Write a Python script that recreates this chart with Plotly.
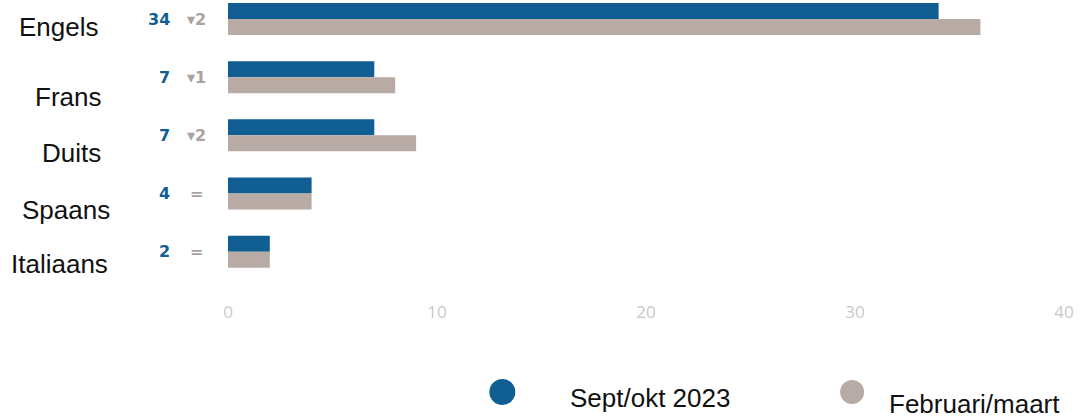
import plotly.graph_objects as go

# Languages and survey results (number of mentions)
languages = ["Engels", "Frans", "Duits", "Spaans", "Italiaans"]
sept_okt_2023 = [34, 7, 7, 4, 2]
februari_maart = [36, 8, 9, 4, 2]
x_ticks = [0, 10, 20, 30, 40]
series_names = ["Sept/okt 2023", "Februari/maart"]

BLUE = "#105e92"
BEIGE = "#b8aaa4"
DELTA_GREY = "#aaa1a0"
TICK_GREY = "#c9c9c9"

W, H = 1086, 419
L, R, T, B = 227.5, 22, 0, 129
plot_w = W - L - R
plot_h = H - T - B


def px_x(px):
    return (px - L) / plot_w


def px_y(py):
    return (T + plot_h - py) / plot_h


fig = go.Figure()
fig.add_trace(go.Bar(y=list(range(len(languages))), x=sept_okt_2023, orientation="h",
                     name=series_names[0], marker=dict(color=BLUE, line=dict(width=0)),
                     hoverinfo="x"))
fig.add_trace(go.Bar(y=list(range(len(languages))), x=februari_maart, orientation="h",
                     name=series_names[1], marker=dict(color=BEIGE, line=dict(width=0)),
                     hoverinfo="x"))

annotations = []

# category names, each nudged slightly below its bar pair
label_x = [58, 67, 71, 65, 58.5]
label_shift = [-7.5, -19.5, -17.3, -16.7, -12.3]
for i, name in enumerate(languages):
    annotations.append(dict(
        text=name, x=px_x(label_x[i]), xref="paper", y=i, yref="y",
        yshift=label_shift[i], xanchor="center", yanchor="middle", showarrow=False,
        font=dict(family="Liberation Sans, Arial", size=26, color="#111111")))

# current value and change versus the previous wave
for i, (cur, prev) in enumerate(zip(sept_okt_2023, februari_maart)):
    diff = cur - prev
    if diff < 0:
        delta = "\u25be" + str(-diff)
    elif diff > 0:
        delta = "\u25b4" + str(diff)
    else:
        delta = "="
    annotations.append(dict(
        text=str(cur), x=px_x(171), xref="paper", y=i, yref="y",
        xanchor="right", yanchor="middle", showarrow=False,
        font=dict(family="DejaVu Sans", size=16, color=BLUE, weight="bold")))
    annotations.append(dict(
        text=delta, x=px_x(195.5), xref="paper", y=i, yref="y",
        xanchor="center", yanchor="middle", showarrow=False,
        font=dict(family="DejaVu Sans", size=16, color=DELTA_GREY, weight="bold")))

# legend: round swatches with their labels
legend_items = [
    (series_names[0], BLUE, 502, 392, 26, 568, 398),
    (series_names[1], BEIGE, 852, 392, 24, 887, 404),
]
shapes = []
for text, color, cx, cy, d, tx, ty in legend_items:
    shapes.append(dict(type="circle", xref="paper", yref="paper",
                       x0=px_x(cx - d / 2), x1=px_x(cx + d / 2),
                       y0=px_y(cy + d / 2), y1=px_y(cy - d / 2),
                       fillcolor=color, line=dict(width=0)))
    annotations.append(dict(
        text=text, x=px_x(tx), xref="paper", y=px_y(ty), yref="paper",
        xanchor="left", yanchor="middle", showarrow=False,
        font=dict(family="Liberation Sans, Arial", size=26, color="#111111")))

fig.update_layout(
    width=W, height=H,
    margin=dict(l=L, r=R, t=T, b=B, pad=0),
    paper_bgcolor="white", plot_bgcolor="white",
    barmode="group", bargap=0.45, bargroupgap=0,
    showlegend=False,
    annotations=annotations, shapes=shapes,
    xaxis=dict(range=[0, 40], tickvals=x_ticks, ticktext=[str(v) for v in x_ticks],
               showgrid=False, zeroline=False, showline=False, ticks="",
               ticklabelstandoff=10,
               tickfont=dict(family="Open Sans", size=17, color=TICK_GREY)),
    yaxis=dict(range=[4.658, -0.327], showticklabels=False, showgrid=False,
               zeroline=False, showline=False, ticks=""),
)

fig.write_html("out.html")
